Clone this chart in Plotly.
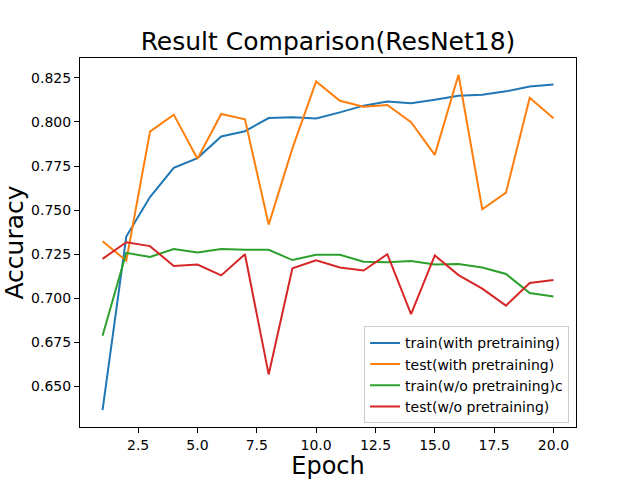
import plotly.graph_objects as go

epochs = list(range(1, 21))
train_with = [0.6366, 0.735, 0.7574, 0.774, 0.7795, 0.7917, 0.7947, 0.8022, 0.8026, 0.8019,
              0.8054, 0.8092, 0.8116, 0.8105, 0.8126, 0.8148, 0.8154, 0.8173, 0.8201, 0.8212]
test_with = [0.7324, 0.7213, 0.7945, 0.8041, 0.7791, 0.8045, 0.8015, 0.7418, 0.785, 0.8229,
             0.812, 0.8086, 0.8096, 0.7998, 0.7813, 0.8267, 0.7505, 0.7599, 0.8137, 0.802]
train_wo = [0.6788, 0.7258, 0.7235, 0.7279, 0.726, 0.7279, 0.7275, 0.7275, 0.7217, 0.7247,
            0.7247, 0.7207, 0.7204, 0.7211, 0.7192, 0.7194, 0.7175, 0.7138, 0.703, 0.701]
test_wo = [0.7224, 0.7318, 0.7296, 0.7183, 0.7192, 0.713, 0.725, 0.6569, 0.717, 0.7215,
           0.7175, 0.7158, 0.725, 0.691, 0.7243, 0.7132, 0.7055, 0.6959, 0.7087, 0.7104]

series = [
    ("train(with pretraining)", train_with, "#1f77b4"),
    ("test(with pretraining)", test_with, "#ff7f0e"),
    ("train(w/o pretraining)c", train_wo, "#2ca02c"),
    ("test(w/o pretraining)", test_wo, "#d62728"),
]
x_ticks = [2.5, 5.0, 7.5, 10.0, 12.5, 15.0, 17.5, 20.0]
y_ticks = [0.650, 0.675, 0.700, 0.725, 0.750, 0.775, 0.800, 0.825]

fig = go.Figure()
for name, vals, color in series:
    fig.add_trace(go.Scatter(x=epochs, y=vals, mode="lines", name=name,
                             line=dict(color=color, width=2)))

allv = train_with + test_with + train_wo + test_wo
ymin, ymax = min(allv), max(allv)
pad = (ymax - ymin) * 0.05
xpad = (max(epochs) - min(epochs)) * 0.05

font = "DejaVu Sans"
axis_common = dict(showgrid=False, zeroline=False, showline=True, linecolor="black",
                   linewidth=1, mirror=True, ticks="outside", ticklen=5, tickwidth=1,
                   tickcolor="black", automargin=False,
                   tickfont=dict(family=font, size=14, color="black"))

fig.update_layout(
    width=640, height=480,
    margin=dict(l=80, r=64, t=58, b=53),
    paper_bgcolor="white", plot_bgcolor="white",
    title=dict(text="Result Comparison(ResNet18)", x=0.5, xanchor="center",
               xref="paper", y=0.915, yref="container", yanchor="middle",
               automargin=False, font=dict(family=font, size=25, color="black")),
    xaxis=dict(range=[min(epochs) - xpad, max(epochs) + xpad], tickvals=x_ticks,
               ticktext=[f"{v:.1f}" for v in x_ticks],
               title=dict(text="Epoch", font=dict(family=font, size=24, color="black"), standoff=6),
               **axis_common),
    yaxis=dict(range=[ymin - pad, ymax + pad], tickvals=y_ticks,
               ticktext=[f"{v:.3f}" for v in y_ticks],
               title=dict(text="Accuracy", font=dict(family=font, size=25, color="black"), standoff=8),
               **axis_common),
    legend=dict(x=0.986, y=0.01, xanchor="right", yanchor="bottom",
                bgcolor="rgba(255,255,255,0.8)", bordercolor="#cccccc", borderwidth=1,
                font=dict(family=font, size=14, color="black")),
)

fig.write_html("out.html", config={"displayModeBar": False},
               post_script="document.body.style.margin='0';")
